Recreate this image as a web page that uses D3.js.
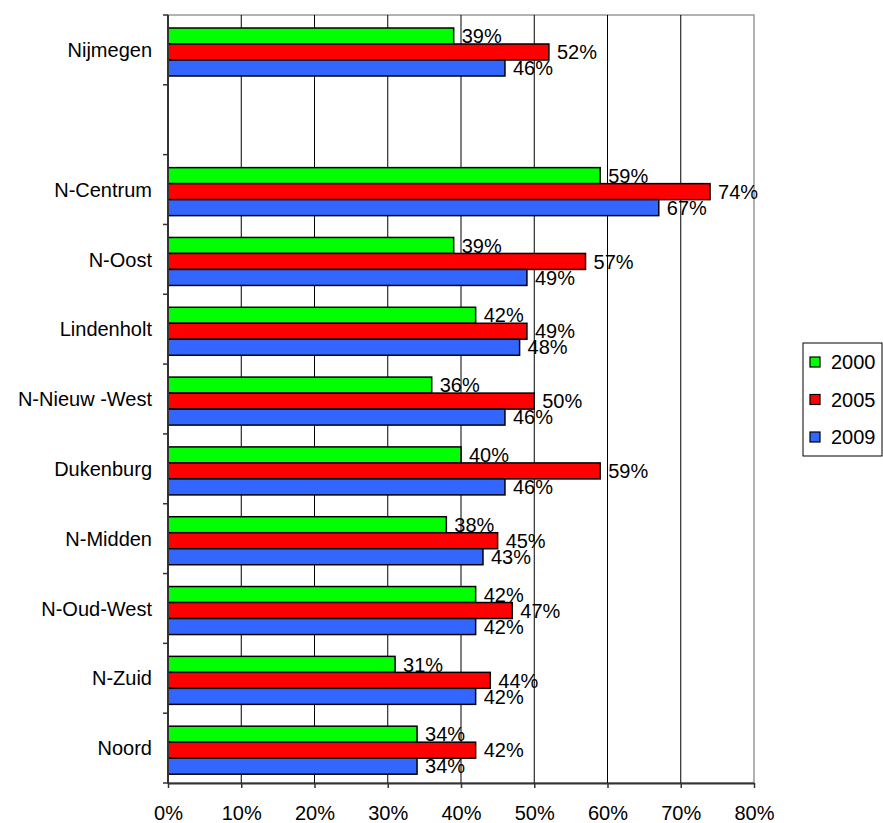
<!DOCTYPE html>
<html>
  <head>
    <style>
      body,
      html {
        margin: 0;
        padding: 0;
        background: #fff;
      }
      text {
        font-family: 'Liberation Sans', Arial, sans-serif;
      }
    </style>
  </head>
  <body>
    <svg id="svg" width="883" height="823"></svg>

    <script src="https://cdn.jsdelivr.net/npm/d3@7"></script>
    <script>
      // categories top to bottom, '' is the empty slot under Nijmegen
      const categories = [
        'Nijmegen', '', 'N-Centrum', 'N-Oost', 'Lindenholt', 'N-Nieuw -West',
        'Dukenburg', 'N-Midden', 'N-Oud-West', 'N-Zuid', 'Noord'
      ];
      const years = ['2000', '2005', '2009'];
      const values2000 = [39, null, 59, 39, 42, 36, 40, 38, 42, 31, 34];
      const values2005 = [52, null, 74, 57, 49, 50, 59, 45, 47, 44, 42];
      const values2009 = [46, null, 67, 49, 48, 46, 46, 43, 42, 42, 34];
      const xTicks = [0, 10, 20, 30, 40, 50, 60, 70, 80];
      const colors = ['#00ff00', '#ff0000', '#3366ff'];

      const series = [values2000, values2005, values2009];
      const rows = categories.map((c, i) => ({
        key: 'c' + i,
        name: c,
        vals: series.map((s) => s[i])
      }));

      const svg = d3.select('#svg');
      const plotLeft = 168, plotRight = 754, plotTop = 15, plotBottom = 783;

      const x = d3.scaleLinear().domain([0, 80]).range([plotLeft, plotRight]);
      const y = d3.scaleBand().domain(rows.map((d) => d.key)).range([plotTop, plotBottom]);
      const inner = d3.scaleBand().domain(years).range([13, 61]);

      // plot border (gray)
      svg.append('rect')
        .attr('x', plotLeft).attr('y', plotTop)
        .attr('width', plotRight - plotLeft).attr('height', plotBottom - plotTop)
        .attr('fill', 'none').attr('stroke', '#999').attr('stroke-width', 1.5);

      // gridlines
      svg.append('g')
        .selectAll('line')
        .data(xTicks.slice(1, -1))
        .join('line')
        .attr('x1', (d) => x(d)).attr('x2', (d) => x(d))
        .attr('y1', plotTop).attr('y2', plotBottom)
        .attr('stroke', '#000').attr('stroke-width', 1);

      // bars
      const groups = svg.append('g')
        .selectAll('g')
        .data(rows.filter((d) => d.name !== ''))
        .join('g')
        .attr('transform', (d) => `translate(0,${y(d.key)})`);

      groups.selectAll('rect')
        .data((d) => d.vals.map((v, j) => ({ v, year: years[j], j })))
        .join('rect')
        .attr('x', x(0))
        .attr('y', (d) => inner(d.year))
        .attr('width', (d) => x(d.v) - x(0))
        .attr('height', inner.bandwidth())
        .attr('fill', (d) => colors[d.j])
        .attr('stroke', '#000')
        .attr('stroke-width', 1.5);

      groups.selectAll('text')
        .data((d) => d.vals.map((v, j) => ({ v, year: years[j] })))
        .join('text')
        .attr('x', (d) => x(d.v) + 8)
        .attr('y', (d) => inner(d.year) + inner.bandwidth() / 2)
        .attr('dy', '0.36em')
        .attr('font-size', 20)
        .attr('fill', '#000')
        .text((d) => d.v + '%');

      // y axis
      const yAxis = svg.append('g')
        .attr('transform', `translate(${plotLeft},0)`);
      yAxis.append('line')
        .attr('x1', 0).attr('x2', 0).attr('y1', plotTop).attr('y2', plotBottom)
        .attr('stroke', '#333').attr('stroke-width', 2);
      yAxis.selectAll('line.tick')
        .data(rows.map((d) => y(d.key)).concat([plotBottom]))
        .join('line')
        .attr('class', 'tick')
        .attr('x1', -5).attr('x2', 0)
        .attr('y1', (d) => d).attr('y2', (d) => d)
        .attr('stroke', '#333').attr('stroke-width', 1.5);
      yAxis.selectAll('text')
        .data(rows)
        .join('text')
        .attr('x', -16)
        .attr('y', (d) => y(d.key) + y.bandwidth() / 2)
        .attr('dy', '0.36em')
        .attr('text-anchor', 'end')
        .attr('font-size', 20)
        .text((d) => d.name);

      // x axis
      const xAxis = svg.append('g')
        .attr('transform', `translate(0,${plotBottom})`)
        .call(d3.axisBottom(x).tickValues(xTicks).tickFormat((d) => d + '%').tickSize(5).tickSizeOuter(0));
      xAxis.select('.domain').attr('stroke', '#333').attr('stroke-width', 2);
      xAxis.selectAll('.tick line').attr('stroke', '#333').attr('stroke-width', 1.5);
      xAxis.selectAll('.tick text')
        .attr('font-size', 20)
        .attr('font-family', "'Liberation Sans', Arial, sans-serif")
        .attr('fill', '#000')
        .attr('y', 23);

      // legend
      const legend = svg.append('g');
      legend.append('rect')
        .attr('x', 803).attr('y', 343).attr('width', 79).attr('height', 113)
        .attr('fill', '#fff').attr('stroke', '#000').attr('stroke-width', 1);
      const items = legend.selectAll('g')
        .data(years)
        .join('g')
        .attr('transform', (d, i) => `translate(810,${362 + i * 37.5})`);
      items.append('rect')
        .attr('x', 0).attr('y', -5).attr('width', 10).attr('height', 10)
        .attr('fill', (d, i) => colors[i])
        .attr('stroke', '#000').attr('stroke-width', 1.2);
      items.append('text')
        .attr('x', 21).attr('y', 0).attr('dy', '0.36em')
        .attr('font-size', 20)
        .text((d) => d);
    </script>
  </body>
</html>
